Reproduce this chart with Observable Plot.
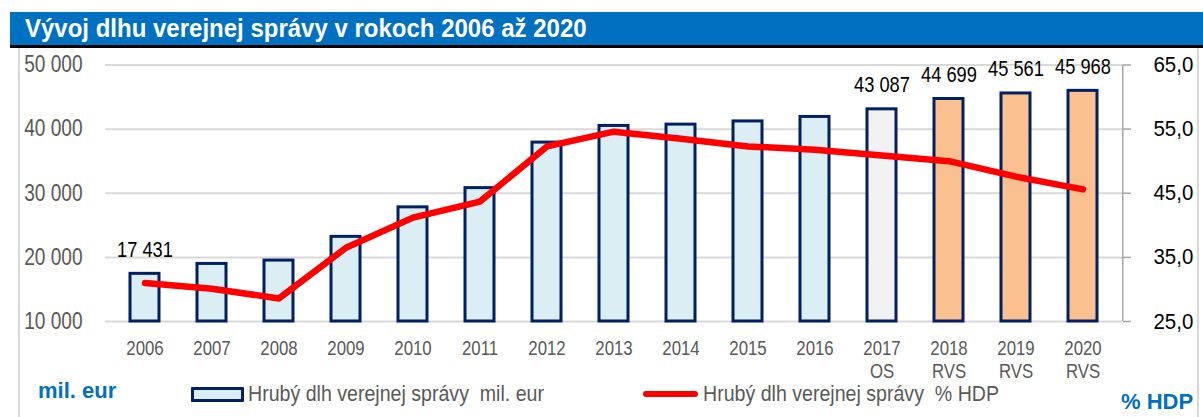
<!DOCTYPE html>
<html>
<head>
<meta charset="utf-8">
<script src="https://cdn.jsdelivr.net/npm/d3@7"></script>
<script src="https://cdn.jsdelivr.net/npm/@observablehq/plot@0.6"></script>
<style>
  html, body { margin: 0; padding: 0; background: #fff; }
  #wrap { position: relative; width: 1203px; height: 417px; overflow: hidden; font-family: "Liberation Sans", Arial, sans-serif; }
  #title { position: absolute; left: 10px; top: 12px; width: 1193px; height: 33px; background: #0070C0; border-bottom: 3px solid #000; }
  #title span { position: absolute; left: 15px; top: 4px; color: #fff; font-weight: bold; font-size: 25px; line-height: 25px; white-space: nowrap; transform: scaleX(0.96); transform-origin: 0 50%; }
  .vline { position: absolute; top: 48px; width: 2px; height: 369px; background: #D9D9D9; }
  #chart { position: absolute; left: 0; top: 0; }
  .unit { position: absolute; color: #0070C0; font-weight: bold; font-size: 22px; line-height: 22px; white-space: nowrap; }
  .legtxt { position: absolute; color: #595959; font-size: 22px; line-height: 22px; white-space: pre; transform: scaleX(0.89); transform-origin: 0 50%; }
  .swatch { position: absolute; left: 191px; top: 387px; width: 47px; height: 9px; background: #DAEEF3; border: 3px solid #002060; border-radius: 1px; }
  .redline { position: absolute; left: 643px; top: 391px; width: 55px; height: 6px; background: #FF0000; border-radius: 3px; }
</style>
</head>
<body>
<div id="wrap">
  <div id="title"><span></span></div>
  <div class="vline" style="left:18px"></div>
  <div class="vline" style="left:1197px"></div>
  <div id="chart"></div>
  <div class="unit" id="unitLeft" style="left:38px; top:380px;"></div>
  <div class="swatch"></div>
  <div class="legtxt" id="leg1" style="left:248px; top:383px;"></div>
  <div class="redline"></div>
  <div class="legtxt" id="leg2" style="left:703px; top:383px;"></div>
  <div class="unit" id="unitRight" style="left:1121px; top:391px;"></div>
</div>
<script>
// ---- data ----
const titleText = "Vývoj dlhu verejnej správy v rokoch 2006 až 2020";
const years = ["2006","2007","2008","2009","2010","2011","2012","2013","2014","2015","2016","2017","2018","2019","2020"];
const yearStatus = ["","","","","","","","","","","","OS","RVS","RVS","RVS"];
const debtEur = [17431, 18980, 19500, 23200, 27800, 30800, 37900, 40500, 40700, 41200, 41900, 43087, 44699, 45561, 45968];
const debtPct = [31.0, 30.1, 28.6, 36.5, 41.2, 43.7, 52.3, 54.6, 53.5, 52.3, 51.8, 50.9, 50.0, 47.6, 45.6];
const labeledYears = ["2006","2017","2018","2019","2020"];
const leftTicks = [10000, 20000, 30000, 40000, 50000];
const rightTicks = [25, 35, 45, 55, 65];
const seriesEurName = "Hrubý dlh verejnej správy  mil. eur";
const seriesPctName = "Hrubý dlh verejnej správy  % HDP";
const unitLeft = "mil. eur";
const unitRight = "% HDP";

// ---- build ----
document.querySelector("#title span").textContent = titleText;
document.getElementById("unitLeft").textContent = unitLeft;
document.getElementById("unitRight").textContent = unitRight;
document.getElementById("leg1").textContent = seriesEurName;
document.getElementById("leg2").textContent = seriesPctName;

const rows = years.map((y, i) => ({year: y, status: yearStatus[i], eur: debtEur[i], pct: debtPct[i]}));
// right axis (% HDP) mapped linearly onto the left scale: 25 -> 10000, 65 -> 50000
const pctToLeft = p => leftTicks[0] + (p - rightTicks[0]) * (leftTicks[4] - leftTicks[0]) / (rightTicks[4] - rightTicks[0]);
const leftToPct = v => rightTicks[0] + (v - leftTicks[0]) * (rightTicks[4] - rightTicks[0]) / (leftTicks[4] - leftTicks[0]);
const fmtSpace = d => d3.format(",")(d).replace(/,/g, " ");
const statusOf = Object.fromEntries(years.map((y, i) => [y, yearStatus[i]]));

const chart = Plot.plot({
  width: 1203,
  height: 417,
  marginLeft: 105,
  marginRight: 81,
  marginTop: 64.5,
  marginBottom: 96,
  style: {fontFamily: `"Liberation Sans", Arial, sans-serif`, fontSize: "21px", background: "transparent", overflow: "visible"},
  x: {domain: years, paddingInner: 0.57, paddingOuter: 0.285, label: null},
  y: {domain: [leftTicks[0], leftTicks[4]], label: null},
  color: {domain: ["", "OS", "RVS"], range: ["#DAEEF3", "#F2F2F2", "#FAC090"]},
  marks: [
    Plot.gridY(leftTicks, {stroke: "#D9D9D9", strokeOpacity: 1, strokeWidth: 2}),
    Plot.axisY(leftTicks, {anchor: "left", tickSize: 0, tickPadding: 23, tickFormat: fmtSpace, fill: "#595959", fontSize: 23, label: null}),
    Plot.axisY(leftTicks, {anchor: "right", tickSize: 8, tickPadding: 23, stroke: "#A6A6A6", strokeWidth: 1.5, tickFormat: d => leftToPct(d).toFixed(1).replace(".", ","), fill: "#000", fontSize: 22, label: null}),
    Plot.axisX({tickSize: 0, tickPadding: 17, fill: "#595959", fontSize: 21, lineHeight: 1.1, tickFormat: y => statusOf[y] ? `${y}\n${statusOf[y]}` : y, label: null}),
    Plot.barY(rows, {x: "year", y1: leftTicks[0], y2: "eur", fill: "status", stroke: "#002060", strokeWidth: 3}),
    Plot.line(rows, {x: "year", y: d => pctToLeft(d.pct), stroke: "#FF0000", strokeWidth: 6.5, strokeLinecap: "round", strokeLinejoin: "round"}),
    Plot.text(rows.filter(d => labeledYears.includes(d.year)), {x: "year", y: "eur", text: d => fmtSpace(d.eur), lineAnchor: "bottom", dy: -17, fill: "#000", fontSize: 22})
  ]
});
document.getElementById("chart").appendChild(chart);

// right-hand axis line drawn with the chart's own y scale
const ys = chart.scale("y");
d3.select(chart).append("line")
  .attr("x1", 1203 - 81 + 0.75).attr("x2", 1203 - 81 + 0.75)
  .attr("y1", ys.apply(leftTicks[4])).attr("y2", ys.apply(leftTicks[0]))
  .attr("stroke", "#A6A6A6").attr("stroke-width", 1.5);

// horizontally condense text to mimic the narrow typeface of the original
function squeeze(nodes, s) {
  nodes.forEach(el => {
    const t = el.getAttribute("transform");
    if (t) el.setAttribute("transform", `${t} scale(${s},1)`);
    else {
      const x = +el.getAttribute("x") || 0, y = +el.getAttribute("y") || 0;
      el.removeAttribute("x"); el.removeAttribute("y");
      el.setAttribute("transform", `translate(${x},${y}) scale(${s},1)`);
    }
  });
}
const yLabelGroups = chart.querySelectorAll('g[aria-label="y-axis tick label"]');
if (yLabelGroups[0]) squeeze(yLabelGroups[0].querySelectorAll("text"), 0.83);
if (yLabelGroups[1]) squeeze(yLabelGroups[1].querySelectorAll("text"), 0.93);
const xLabelGroup = chart.querySelector('g[aria-label="x-axis tick label"]');
if (xLabelGroup) squeeze(xLabelGroup.querySelectorAll("text"), 0.8);
const textGroup = chart.querySelector('g[aria-label="text"]');
if (textGroup) squeeze(textGroup.querySelectorAll("text"), 0.83);
</script>
</body>
</html>
